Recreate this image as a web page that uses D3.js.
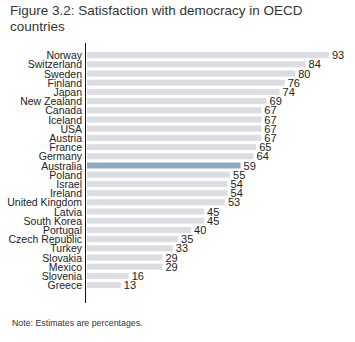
<!DOCTYPE html>
<html>
<head>
<meta charset="utf-8">
<script src="https://cdn.jsdelivr.net/npm/d3@7"></script>
<style>
  body { margin: 0; background: #fff; }
  text { font-family: "Liberation Sans", Arial, sans-serif; }
</style>
</head>
<body>
<div id="chart"></div>
<script>
const countries = ["Norway", "Switzerland", "Sweden", "Finland", "Japan", "New Zealand", "Canada",
  "Iceland", "USA", "Austria", "France", "Germany", "Australia", "Poland", "Israel", "Ireland",
  "United Kingdom", "Latvia", "South Korea", "Portugal", "Czech Republic", "Turkey", "Slovakia",
  "Mexico", "Slovenia", "Greece"];
const values = [93, 84, 80, 76, 74, 69, 67, 67, 67, 67, 65, 64, 59, 55, 54, 54, 53, 45, 45, 40, 35, 33, 29, 29, 16, 13];
const highlight = "Australia";

const w = 355, h = 342;

const svg = d3.select("#chart").append("svg")
  .attr("width", w)
  .attr("height", h);

// title
svg.append("text")
  .attr("x", 10).attr("y", 15)
  .attr("font-size", 13.5).attr("fill", "#333")
  .text("Figure 3.2: Satisfaction with democracy in OECD");
svg.append("text")
  .attr("x", 10).attr("y", 31)
  .attr("font-size", 13.5).attr("fill", "#333")
  .text("countries");

const y = d3.scaleBand()
  .domain(countries)
  .range([50.5, 50.5 + countries.length * 9.2])
  .paddingInner(0.35)
  .paddingOuter(0.175);

const x = d3.scaleLinear()
  .domain([0, 93])
  .range([87, 329]);

// bars
svg.append("g")
  .selectAll("rect")
  .data(countries)
  .join("rect")
    .attr("x", x(0))
    .attr("y", d => y(d))
    .attr("width", (d, i) => x(values[i]) - x(0))
    .attr("height", y.bandwidth())
    .attr("fill", d => d == highlight ? "#8eaac3" : "#dcdde2");

// value labels
svg.append("g")
  .selectAll("text")
  .data(countries)
  .join("text")
    .attr("x", (d, i) => x(values[i]) + 3)
    .attr("y", d => y(d) + y.bandwidth() / 2 + 4)
    .attr("font-size", 11)
    .attr("fill", "#222")
    .text((d, i) => values[i]);

// country labels
svg.append("g")
  .selectAll("text")
  .data(countries)
  .join("text")
    .attr("x", 82)
    .attr("y", d => y(d) + y.bandwidth() / 2 + 4)
    .attr("text-anchor", "end")
    .attr("font-size", 10.5)
    .attr("fill", "#222")
    .text(d => d);

// axis line
svg.append("line")
  .attr("x1", 85.5).attr("x2", 85.5)
  .attr("y1", 43).attr("y2", 303)
  .attr("stroke", "#111")
  .attr("stroke-width", 1);

// note
svg.append("text")
  .attr("x", 12).attr("y", 326)
  .attr("font-size", 8.8).attr("fill", "#333")
  .text("Note: Estimates are percentages.");
</script>
</body>
</html>
